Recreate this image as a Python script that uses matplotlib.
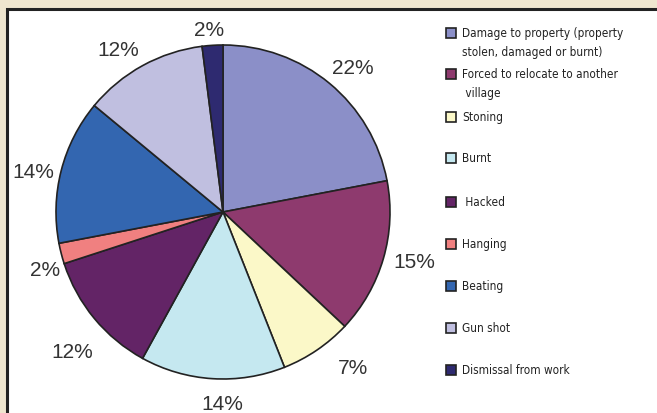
import matplotlib.pyplot as plt
from matplotlib.patches import Rectangle

# Data (clockwise from 12 o'clock)
labels = ['Damage to property (property\nstolen, damaged or burnt)',
          'Forced to relocate to another\n village',
          'Stoning', 'Burnt', ' Hacked', 'Hanging', 'Beating', 'Gun shot',
          'Dismissal from work']
shares = [22, 15, 7, 14, 12, 2, 14, 12, 2]
colors = ['#8b8fc8', '#8e3a6e', '#fbf8c8', '#c5e8f0', '#632466',
          '#f08080', '#3366b0', '#c0bfe0', '#2e2a70']
legend_y = [34, 75, 118, 159, 203, 245, 287, 329, 371]  # px from top
# small pixel nudges (x right, y down) so the % labels sit like the original
nudges = [(5, 6), (4, -5), (20, -6), (12, -4), (0, 15), (11, 9), (0, 8),
          (-11, 9), (-2, 13)]

W, H = 657, 414
fig = plt.figure(figsize=(W/100, H/100), dpi=100)
fig.patch.set_facecolor('#efe6cf')

# white inner panel with dark border
fig.patches.append(Rectangle((7/W, -0.1), 1.1, (H-10)/H + 0.1,
                             transform=fig.transFigure, facecolor='white',
                             edgecolor='#222222', linewidth=2.2, zorder=-10))

cx, cy, r = 223, 213, 167
ax = fig.add_axes([(cx-r)/W, (H-cy-r)/H, 2*r/W, 2*r/H])
wedges, texts, autotexts = ax.pie(
    shares, colors=colors, startangle=90, counterclock=False,
    autopct='%d%%', pctdistance=1.17,
    wedgeprops=dict(edgecolor='#222222', linewidth=1.2),
    textprops=dict(fontsize=15, color='#333333', family='Liberation Sans'))
for t, (dx, dy) in zip(autotexts, nudges):
    x, y = t.get_position()
    t.set_position((x + dx/r, y - dy/r))
ax.set_xlim(-1, 1)
ax.set_ylim(-1, 1)
ax.set_aspect('equal')
ax.axis('off')

for lab, col, y in zip(labels, colors, legend_y):
    fig.patches.append(Rectangle((446/W, (H-y-5)/H), 10/W, 10/H,
                                 transform=fig.transFigure, facecolor=col,
                                 edgecolor='#222222', linewidth=1.2))
    fig.text(462/W, (H-y+7)/H, lab, fontsize=8.5, family='DejaVu Sans',
             fontstretch='condensed', color='#222222', va='top', ha='left',
             linespacing=1.6)

fig.savefig('out.png', dpi=100)
